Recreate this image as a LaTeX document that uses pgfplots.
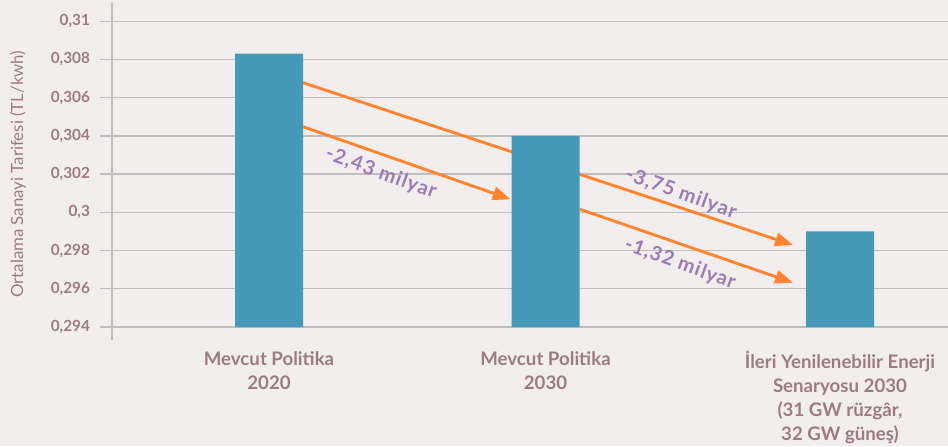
\documentclass[border=0pt]{standalone}
\usepackage{pgfplots}
\pgfplotsset{compat=1.18}
\usetikzlibrary{arrows.meta}
\usepackage{fontspec}
\setmainfont{Lato}
\newfontfamily\pf[LetterSpace=5]{Lato}
\definecolor{bg}{HTML}{F2EEED}
\definecolor{barc}{HTML}{4699B7}
\definecolor{arr}{HTML}{FF8533}
\definecolor{purp}{HTML}{9B7CB6}
\definecolor{lab}{HTML}{9C7B84}
\definecolor{gridc}{HTML}{BEBEBE}
\begin{document}
\begin{tikzpicture}[x=1pt,y=1pt]
\fill[bg] (0,0) rectangle (711,334.5);
\begin{axis}[
  at={(84pt,89.25pt)}, anchor=south west,
  scale only axis, width=627pt, height=229.3pt,
  xmin=112, xmax=948, ymin=0.294, ymax=0.31,
  axis y line*=left, axis x line*=bottom,
  x axis line style={draw=none},
  y axis line style={draw=gridc, line width=1pt, shorten <=-9.75pt, shorten >=-13.7pt},
  xtick={269,545.5,840},
  xticklabels={{Mevcut Politika\\2020},{Mevcut Politika\\2030},{İleri Yenilenebilir Enerji\\Senaryosu 2030\\(31 GW rüzgâr,\\32 GW güneş)}},
  xticklabel style={align=center, font=\bfseries\fontsize{14}{18}\selectfont, text=lab, anchor=north, yshift=-6pt},
  xtick style={draw=none},
  ytick={0.294,0.296,0.298,0.3,0.302,0.304,0.306,0.308,0.31},
  scaled y ticks=false,
  yticklabel style={/pgf/number format/.cd, use comma, fixed, precision=3, assume math mode=true, /tikz/.cd, font=\bfseries\fontsize{11.5}{12}\selectfont, text=lab, xshift=-4pt},
  ytick style={draw=gridc, line width=1pt},
  major tick length=9pt, tick align=outside,
  ymajorgrids, grid style={draw=gridc, line width=1pt},
  ylabel={Ortalama Sanayi Tarifesi (TL/kwh)},
  ylabel style={font=\fontsize{12.6}{14}\selectfont, text=lab, at={(axis description cs:-0.1124,0.5)}, anchor=center, rotate=0},
  clip mode=individual,
]
\addplot[arr, line width=2.2pt, -{Triangle[length=13.5pt, width=10pt]}] coordinates {(303,0.306786) (793,0.298291)};
\addplot[ybar, bar width=51pt, fill=barc, draw=none] coordinates {(269,0.3083) (545.5,0.304) (840,0.299)};
\addplot[arr, line width=2.2pt, -{Triangle[length=13.5pt, width=10pt]}] coordinates {(303,0.304483) (510.7,0.300683)};
\addplot[arr, line width=2.2pt, -{Triangle[length=13.5pt, width=10pt]}] coordinates {(580,0.30016) (793,0.296318)};
\node[rotate=-20, text=purp, font=\pf\bfseries\fontsize{15}{15}\selectfont, inner sep=0pt] at (axis cs:381,0.30205) {-2,43 milyar};
\node[rotate=-20, text=purp, font=\pf\bfseries\fontsize{15}{15}\selectfont, inner sep=0pt] at (axis cs:681,0.30097) {-3,75 milyar};
\node[rotate=-20, text=purp, font=\pf\bfseries\fontsize{15}{15}\selectfont, inner sep=0pt] at (axis cs:680,0.2973) {-1,32 milyar};
\end{axis}
\pgfresetboundingbox
\path[use as bounding box] (0,0) rectangle (711,334.5);
\end{tikzpicture}
\end{document}
